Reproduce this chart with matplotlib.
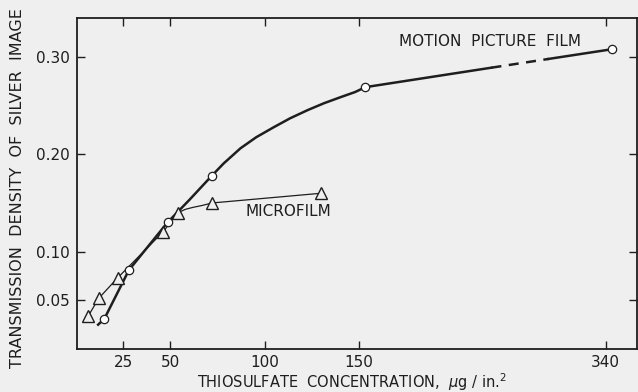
import numpy as np
import matplotlib
matplotlib.use("Agg")
import matplotlib.pyplot as plt

# ---- data ----
# Motion picture film (circles)
mp_x = [15, 28, 48.5, 72, 155, 345]
mp_y = [0.031, 0.081, 0.130, 0.178, 0.269, 0.308]
# smooth curve trace drawn through the circles
mp_curve_x = [11.7, 15, 28, 48.5, 60, 72, 78.2, 87.2, 95.5, 104.8, 113.5, 122.8, 131.5, 140.4, 148, 155]
mp_curve_y = [0.025, 0.031, 0.081, 0.130, 0.153, 0.178, 0.1905, 0.2062, 0.2175, 0.2278, 0.237, 0.2454, 0.2525, 0.2588, 0.2640, 0.269]
mp_solid1_x = [155, 252]
mp_solid1_y = [0.269, 0.289]
mp_dash_x = [252, 296]
mp_dash_y = [0.289, 0.298]
mp_solid2_x = [296, 345]
mp_solid2_y = [0.298, 0.308]

# Microfilm (triangles)
mf_x = [6.5, 12, 22, 46, 54, 72, 130]
mf_y = [0.034, 0.052, 0.073, 0.120, 0.140, 0.150, 0.160]
mf_curve_x = [6.5, 12, 22, 46, 54, 58, 62, 67, 72, 130]
mf_curve_y = [0.034, 0.052, 0.073, 0.120, 0.140, 0.1435, 0.1455, 0.1475, 0.150, 0.160]

x_ticks = [25, 50, 100, 150, 340]
x_ticklabels = ["25", "50", "100", "150", "340"]
y_ticks = [0.05, 0.10, 0.20, 0.30]
y_ticklabels = ["0.05", "0.10", "0.20", "0.30"]

# ---- broken x scale: linear to 150, compressed beyond ----
K = 0.689
BREAK = 150.0


def fwd(x):
    x = np.asarray(x, dtype=float)
    return np.where(x <= BREAK, x, BREAK + (x - BREAK) * K)


def inv(u):
    u = np.asarray(u, dtype=float)
    return np.where(u <= BREAK, u, BREAK + (u - BREAK) / K)


BG = "#efefef"
INK = "#1e1e1e"

fig = plt.figure(figsize=(6.38, 3.92), dpi=100, facecolor=BG)
ax = fig.add_axes([0.1207, 0.1097, 0.8777, 0.8443], facecolor=BG)
ax.set_xscale("function", functions=(fwd, inv))
ax.set_xlim(0.5, 364)
ax.set_ylim(0.0, 0.34)

# motion picture film
ax.plot(mp_curve_x, mp_curve_y, color=INK, lw=1.8, zorder=2, solid_joinstyle="round")
ax.plot(mp_solid1_x, mp_solid1_y, color=INK, lw=1.8, zorder=2)
ax.plot(mp_dash_x, mp_dash_y, color=INK, lw=1.8, ls=(0, (4, 3)), zorder=2)
ax.plot(mp_solid2_x, mp_solid2_y, color=INK, lw=1.8, zorder=2)
ax.plot(mp_x, mp_y, ls="none", marker="o", ms=6, mfc="white", mec=INK, mew=0.9, zorder=4)

# microfilm
ax.plot(mf_curve_x, mf_curve_y, color=INK, lw=0.9, zorder=3)
ax.plot(mf_x, mf_y, ls="none", marker="^", ms=8.5, mfc=BG, mec=INK, mew=1.0, zorder=5)

ax.text(0.7375, 0.930, "MOTION  PICTURE  FILM", transform=ax.transAxes,
        fontsize=11, color=INK, ha="center", va="center")
ax.text(0.377, 0.414, "MICROFILM", transform=ax.transAxes,
        fontsize=11, color=INK, ha="center", va="center")

ax.set_xticks(x_ticks)
ax.set_xticklabels(x_ticklabels)
ax.set_yticks(y_ticks)
ax.set_yticklabels(y_ticklabels)
ax.minorticks_off()
ax.tick_params(direction="in", length=6, width=1, color=INK, labelcolor=INK,
               labelsize=11, top=True, right=True, pad=5)
ax.tick_params(axis="x", pad=4)
for s in ax.spines.values():
    s.set_color(INK)
    s.set_linewidth(1.3)

fig.text(0.027, 0.520, "TRANSMISSION  DENSITY  OF  SILVER  IMAGE", rotation=90,
         fontsize=11.5, color=INK, ha="center", va="center")
fig.text(0.552, 0.024, "THIOSULFATE  CONCENTRATION,  $\\mu$g / in.$^2$",
         fontsize=10.5, color=INK, ha="center", va="center")

fig.savefig("out.png", dpi=100, facecolor=BG)
